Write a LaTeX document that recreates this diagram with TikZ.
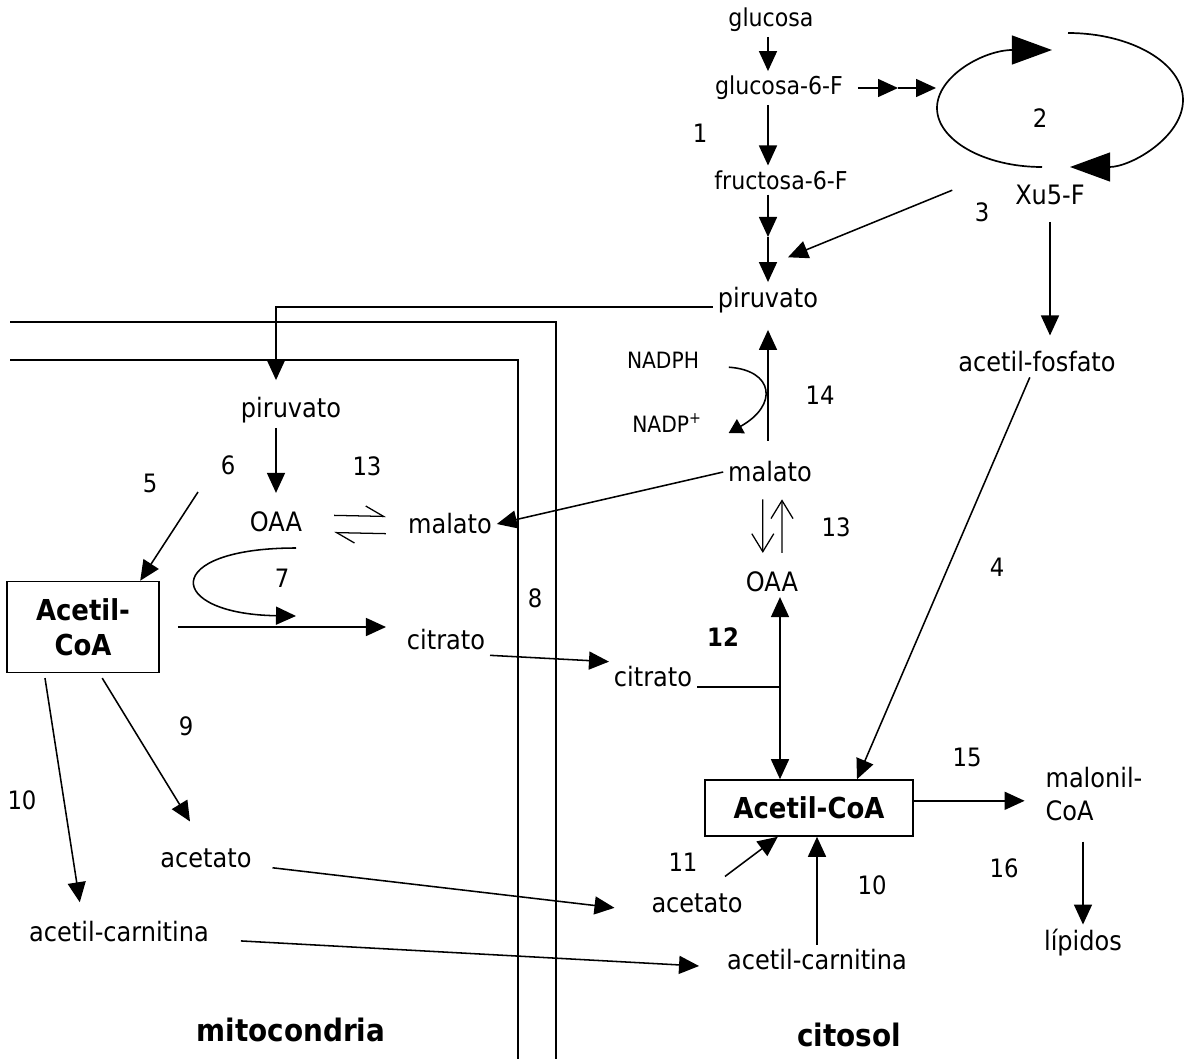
\documentclass[tikz,border=0pt]{standalone}
\usepackage{fontspec}
\setmainfont{DejaVu Sans Condensed}
\usetikzlibrary{arrows.meta}

\tikzset{
  arr/.style={-{Triangle[length=0.5cm,width=0.45cm]}},
  arrtwo/.style={{Triangle[length=0.5cm,width=0.45cm]}-{Triangle[length=0.5cm,width=0.45cm]}},
  sarr/.style={-{Triangle[length=0.35cm,width=0.4cm]}},
  bigarr/.style={line width=1.2pt,-{Triangle[length=1cm,width=0.72cm]}},
  oarr/.style={line width=0.9pt,-{Straight Barb[length=0.45cm,width=0.55cm]}},
  harp/.style={line width=0.9pt,-{Straight Barb[harpoon,length=0.45cm,width=0.5cm]}},
  memb/.style={line width=1.1pt},
  sm/.style={font=\fontsize{17.5}{21}\selectfont},
  tiny/.style={font=\fontsize{16}{19}\selectfont},
  num/.style={font=\fontsize{18}{21}\selectfont},
  box/.style={draw,line width=1.1pt,font=\bfseries\fontsize{20.5}{25}\selectfont}
}

\begin{document}
\begin{tikzpicture}[x=0.025cm,y=-0.025cm,line width=1.1pt]
\useasboundingbox (0,0) rectangle (1186,1059);

        \draw[memb] (10,322) -- (556,322) -- (556,1059);
        \draw[memb] (10,360) -- (518,360) -- (518,1059);

        \begin{scope}[every node/.style={font=\fontsize{19}{23}\selectfont,inner sep=3pt}]
          \node[sm] (glucosa) at (771,20)  {glucosa};
          \node[sm] (g6f)     at (779,88)  {glucosa-6-F};
          \node[sm] (f6f)     at (781,180) {fructosa-6-F};
          \node (pirC)   at (768,300)  {piruvato};
          \node (xu5f)   at (1050,195) {Xu5-F};
          \node (acf)    at (1037,362) {acetil-fosfato};
          \node[tiny] (nadph) at (663,360) {NADPH};
          \node[tiny] (nadp)  at (667,423) {NADP\textsuperscript{+}};
          \node (malC)   at (770,472)  {malato};
          \node (oaaC)   at (772,582)  {OAA};
          \node (citC)   at (653,677)  {citrato};
          \node[box,minimum width=5.2cm,minimum height=1.4cm] (acoaC) at (809,808) {Acetil-CoA};
          \node (acetC)  at (697,903)  {acetato};
          \node (acarC)  at (817,960)  {acetil-carnitina};
          \node[align=left] (malonil) at (1094,794) {malonil-\\CoA};
          \node (lipidos) at (1083,943) {lípidos};
          \node (pirM)   at (291,410)  {piruvato};
          \node (oaaM)   at (276,522)  {OAA};
          \node (malM)   at (450,524)  {malato};
          \node (citM)   at (446,640)  {citrato};
          \node[box,align=center,minimum width=3.8cm,minimum height=2.275cm] (acoaM) at (83,627) {Acetil-\\CoA};
          \node (acetM)  at (206,858)  {acetato};
          \node (acarM)  at (119,932)  {acetil-carnitina};
        \end{scope}

        \begin{scope}[every node/.style={num,inner sep=1pt}]
          \node (n1)   at (700,133)  {1};
          \node (n2)   at (1040,118) {2};
          \node (n3)   at (982,212)  {3};
          \node (n4)   at (997,567)  {4};
          \node (n5)   at (150,483)  {5};
          \node (n6)   at (228,465)  {6};
          \node (n7)   at (282,578)  {7};
          \node (n8)   at (535,598)  {8};
          \node (n9)   at (186,726)  {9};
          \node (n10a) at (22,800)   {10};
          \node (n10b) at (872,885)  {10};
          \node (n11)  at (683,862)  {11};
          \node[font=\bfseries\fontsize{18}{21}\selectfont] (n12) at (723,637) {12};
          \node (n13a) at (367,466)  {13};
          \node (n13b) at (836,527)  {13};
          \node (n14)  at (820,395)  {14};
          \node (n15)  at (967,757)  {15};
          \node (n16)  at (1004,868) {16};
          \node[font=\bfseries\fontsize{22}{26}\selectfont] (mito) at (291,1030) {mitocondria};
          \node[font=\bfseries\fontsize{22}{26}\selectfont] (cito) at (849,1035) {citosol};
        \end{scope}

        \coordinate (fp)  at (768,237);
        \coordinate (gc)  at (898,88);
        \coordinate (cyc) at (936,88);
        \coordinate (cj)  at (780,687);
        \coordinate (a56) at (198,492);
        \coordinate (c7a) at (296,548);
        \coordinate (c7b) at (296,616);

        \draw[bigarr] (1042,167) .. controls (984,167) and (937,140) .. (937,108)
          .. controls (937,76) and (984,50) .. (1052,50);
        \draw[bigarr] (1068,33) .. controls (1131,33) and (1183,63) .. (1183,100)
          .. controls (1183,137) and (1131,167) .. (1070,167);

        \begin{scope}[every edge/.style={draw,line width=1.1pt}]
          \path (glucosa.south -| pirC) edge[arr] (g6f.north -| pirC);
          \path (g6f.south -| pirC) edge[arr] (f6f.north -| pirC);
          \path (f6f.south -| pirC) edge[arr] (fp);
          \path (fp) edge[arr] (pirC.north);
          \path (g6f.east) edge[arr,shorten <=0.25cm] (gc);
          \path (gc) edge[arr] (cyc);
          \path ([xshift=-1.45cm,yshift=0.12cm]xu5f.west) edge[arr] ([xshift=0.5cm,yshift=0.62cm]pirC.north);
          \path (xu5f.south) edge[arr,shorten <=0.3cm] ([yshift=0.28cm]xu5f.south |- acf.north);
          \path ([xshift=-0.18cm]acf.south) edge[arr] ([xshift=1.2cm]acoaC.north);
          \path (malC.north -| pirC) edge[arr,shorten <=0.4cm,shorten >=0.3cm] (pirC.south);
          \path ([xshift=-0.18cm]malC.south) edge[oarr,shorten <=0.3cm,shorten >=0.35cm] ([xshift=-0.23cm]oaaC.north);
          \path ([xshift=0.25cm]oaaC.north) edge[oarr,shorten <=0.35cm,shorten >=0.3cm] ([xshift=0.3cm]malC.south);
          \path (malC.west) edge[arr] (malM.east);
          \path (pirM.south -| oaaM) edge[arr,shorten >=0.35cm] (oaaM.north);
          \path ([yshift=0.18cm]oaaM.east) edge[harp,shorten <=0.68cm,shorten >=0.43cm] ([yshift=0.18cm]malM.west);
          \path ([yshift=-0.25cm]malM.west) edge[harp,shorten <=0.43cm,shorten >=0.68cm] ([yshift=-0.25cm]oaaM.east);
          \path ([xshift=0.45cm]acoaM.east) edge[arr,shorten >=0.4cm] (acoaM.east -| citM.west);
          \path (citM.south east) edge[arr] (citC.north west);
          \path ([yshift=-0.25cm]citC.east) edge ([yshift=-0.25cm]citC.east -| cj);
          \path (oaaC.south -| cj) edge[arrtwo] (cj |- acoaC.north);
          \path (a56) edge[arr] ([xshift=1.43cm]acoaM.north);
          \path ([xshift=0.48cm,yshift=-0.12cm]acoaM.south) edge[arr] ([xshift=-0.4cm,yshift=0.55cm]acetM.north);
          \path ([xshift=-0.95cm,yshift=-0.12cm]acoaM.south) edge[arr] ([xshift=-0.98cm,yshift=0.36cm]acarM.north);
          \path ([xshift=0.4cm,yshift=0.12cm]acetM.south east) edge[arr] ([xshift=-0.8cm,yshift=-0.12cm]acetC.west);
          \path ([xshift=0.68cm,yshift=0.16cm]acarM.south east) edge[arr] ([xshift=-0.58cm,yshift=-0.15cm]acarC.west);
          \path ([xshift=0.7cm,yshift=0.3cm]acetC.north) edge[arr] ([xshift=-0.78cm]acoaC.south);
          \path (acarC.north) edge[arr] (acarC.north |- acoaC.south);
          \path ([yshift=0.18cm]acoaC.east) edge[arr,shorten >=0.4cm] ([yshift=0.18cm]acoaC.east -| malonil.west);
          \path (malonil.south -| lipidos) edge[arr,shorten <=0.4cm] (lipidos.north);
        \end{scope}

        \draw[arr] ([yshift=-0.18cm]pirC.west) -| ([yshift=0.3cm]pirM.north -| oaaM);
        \draw[sarr] ([xshift=0.62cm,yshift=-0.18cm]nadph.east) .. controls +(45,3) and +(50,-28) .. ([xshift=0.55cm,yshift=-0.25cm]nadp.east);
        \draw[arr] (c7a) .. controls (160,548) and (165,614) .. (c7b);

      \end{tikzpicture}
\end{document}
